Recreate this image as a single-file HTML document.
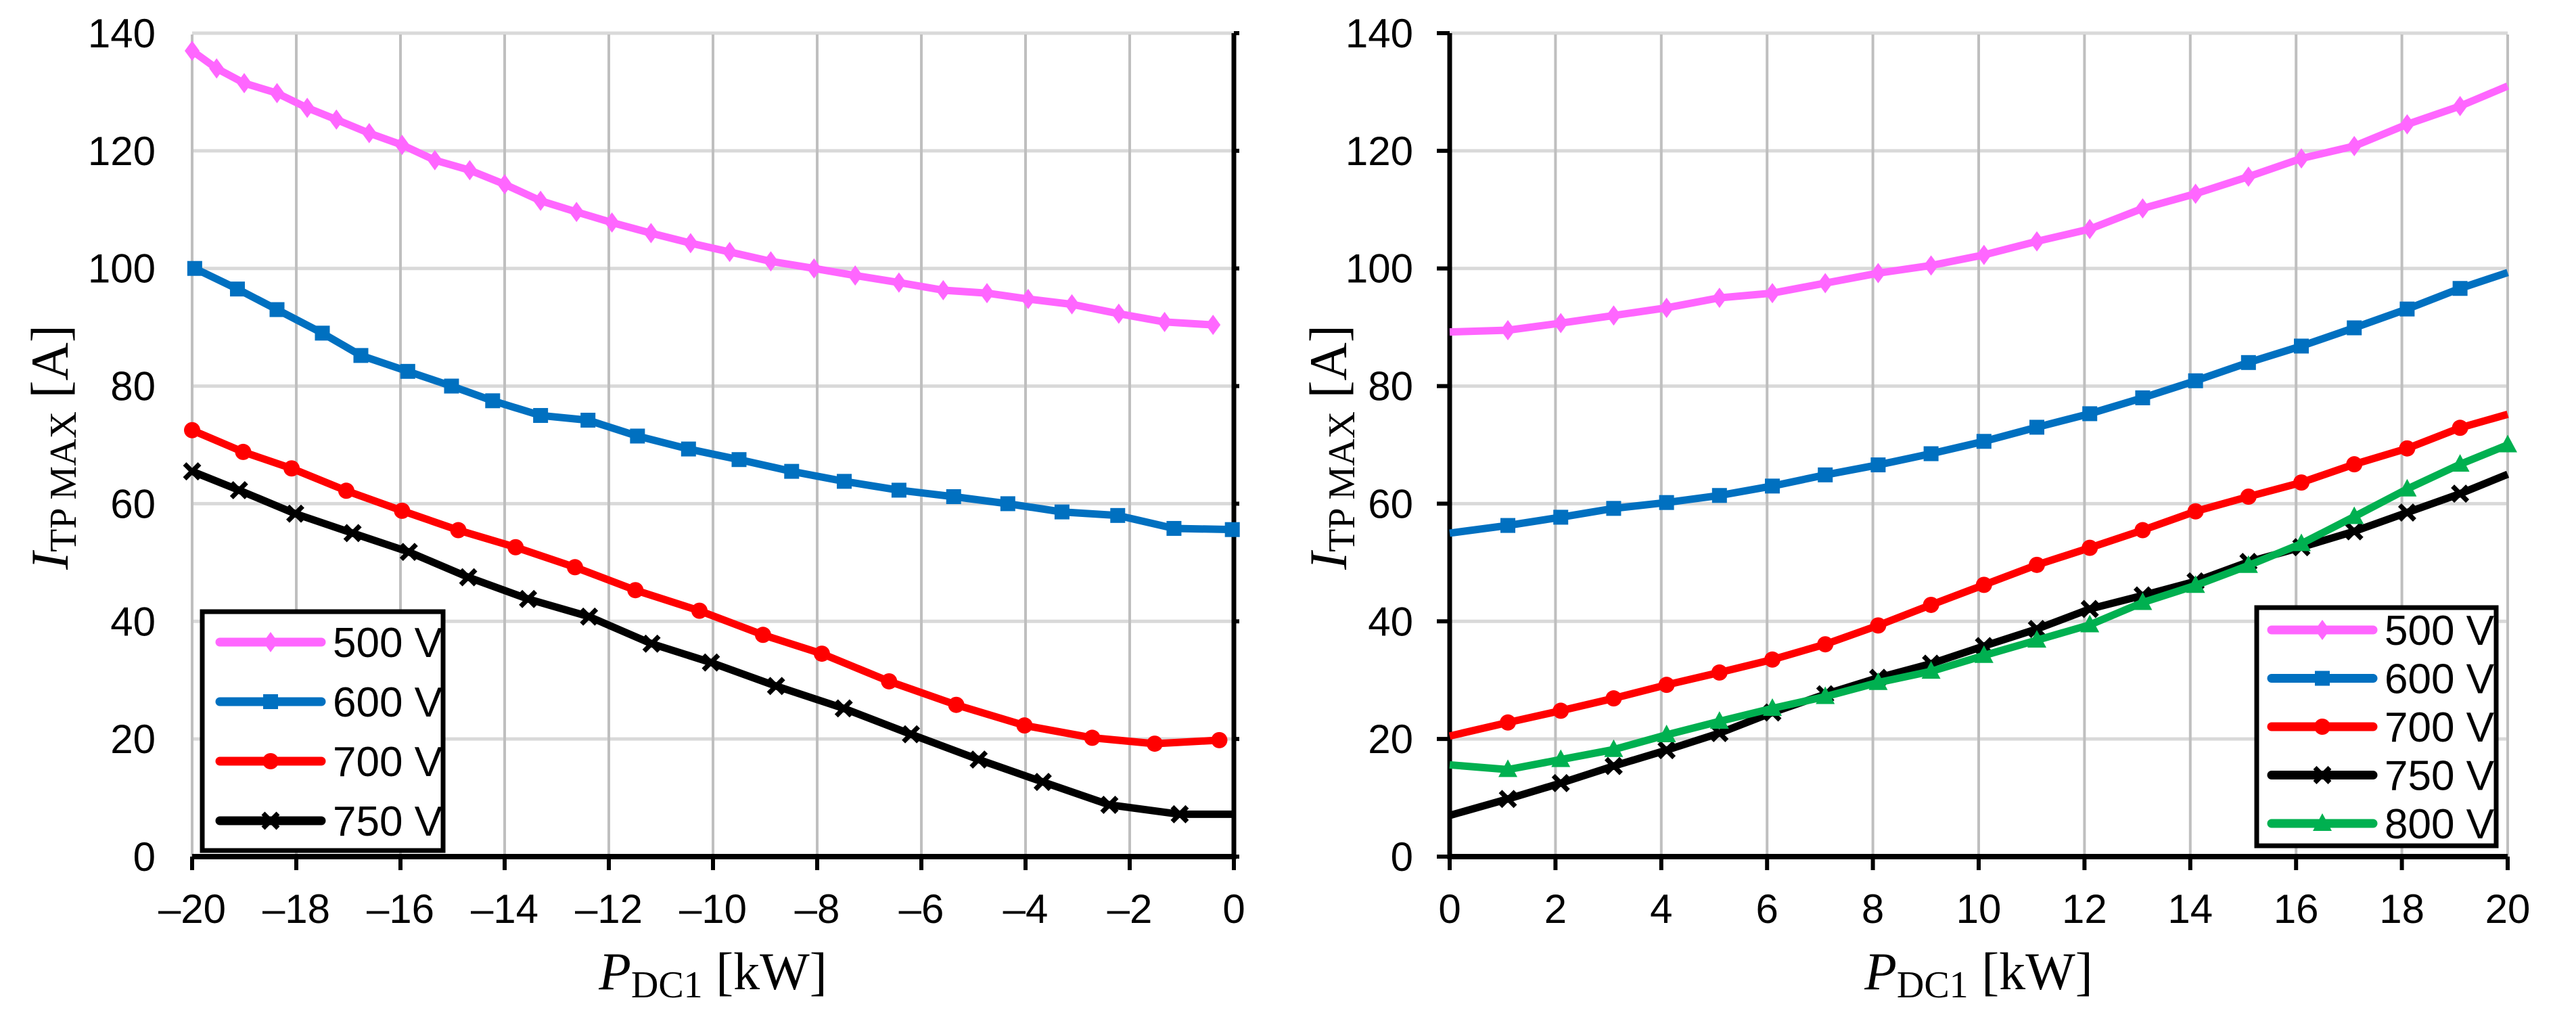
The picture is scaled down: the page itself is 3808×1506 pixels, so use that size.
<!DOCTYPE html>
<html><head><meta charset="utf-8"><style>
html,body{margin:0;padding:0;background:#fff}
svg{display:block}
text{font-family:"Liberation Sans",sans-serif}
.serif{font-family:"Liberation Serif",serif}
</style></head><body>
<svg id="chart" width="3808" height="1506" viewBox="0 0 3808 1506" xmlns="http://www.w3.org/2000/svg"></svg>
<script>
// ---- data: left panel (negative power) ----
const leftX500 = [-20,-19.53,-19.0,-18.37,-17.79,-17.23,-16.6,-15.97,-15.34,-14.67,-14.0,-13.31,-12.62,-11.94,-11.19,-10.43,-9.68,-8.89,-8.06,-7.27,-6.43,-5.58,-4.74,-3.95,-3.11,-2.21,-1.33,-0.4];
const leftY500 = [137,134,131.5,129.8,127.3,125.3,123,121,118.4,116.7,114.3,111.5,109.6,107.8,106,104.3,102.8,101.2,100,98.8,97.6,96.3,95.8,94.8,93.9,92.3,90.9,90.4];
const leftX600 = [-19.95,-19.13,-18.37,-17.5,-16.76,-15.86,-15.02,-14.23,-13.31,-12.4,-11.45,-10.47,-9.5,-8.49,-7.48,-6.43,-5.38,-4.34,-3.3,-2.23,-1.15,-0.03];
const leftY600 = [100,96.5,93,89,85.2,82.5,80,77.5,75,74.2,71.5,69.3,67.5,65.5,63.8,62.3,61.2,60,58.6,58,55.8,55.6];
const leftX700 = [-20,-19.02,-18.09,-17.04,-15.97,-14.89,-13.79,-12.65,-11.49,-10.26,-9.04,-7.91,-6.62,-5.33,-4.02,-2.72,-1.52,-0.28];
const leftY700 = [72.5,68.8,66,62.2,58.8,55.5,52.6,49.2,45.3,41.8,37.7,34.5,29.8,25.8,22.3,20.2,19.2,19.8];
const leftX750 = [-20,-19.1,-18.02,-16.92,-15.84,-14.7,-13.55,-12.38,-11.18,-10.04,-8.79,-7.49,-6.2,-4.9,-3.67,-2.39,-1.04,0];
const leftY750 = [65.5,62.3,58.3,55,51.8,47.5,43.8,40.8,36.2,33,29,25.2,20.8,16.5,12.7,8.8,7.2,7.2];
// ---- data: right panel (positive power) ----
const rightX = [0,1.1,2.1,3.1,4.1,5.1,6.1,7.1,8.1,9.1,10.1,11.1,12.1,13.1,14.1,15.1,16.1,17.1,18.1,19.1,20];
const rightY500 = [89.2,89.5,90.7,92,93.3,95,95.8,97.5,99.2,100.5,102.3,104.6,106.7,110.2,112.7,115.6,118.7,120.8,124.5,127.6,131];
const rightY600 = [55,56.3,57.7,59.2,60.2,61.4,63,64.9,66.6,68.5,70.6,73,75.3,78,80.9,84,86.8,89.9,93.1,96.6,99.3];
const rightY700 = [20.5,22.8,24.8,26.9,29.2,31.3,33.5,36.1,39.3,42.8,46.2,49.6,52.5,55.5,58.7,61.2,63.6,66.7,69.4,72.9,75.2];
const rightY750 = [7,9.8,12.5,15.4,18.1,21,24.5,27.6,30.4,32.8,35.8,38.7,42.1,44.4,46.8,50.1,52.6,55.3,58.5,61.7,65];
const rightY800 = [15.6,14.8,16.5,18.2,20.7,23,25.2,27.2,29.6,31.5,34.2,36.8,39.4,43.2,46.1,49.5,53.2,57.8,62.5,66.7,70];
const leftXTicks = [-20,-18,-16,-14,-12,-10,-8,-6,-4,-2,0];
const rightXTicks = [0,2,4,6,8,10,12,14,16,18,20];
const yTicks = [0,20,40,60,80,100,120,140];
const seriesNames = ["500 V","600 V","700 V","750 V","800 V"];

const NS="http://www.w3.org/2000/svg";
const svg=document.getElementById('chart');
function mk(tag,attrs,parent){const e=document.createElementNS(NS,tag);for(const k in attrs)e.setAttribute(k,attrs[k]);(parent||svg).appendChild(e);return e;}
const colors={"500 V":"#ff66ff","600 V":"#0070c0","700 V":"#ff0000","750 V":"#000000","800 V":"#00b050"};
const markers={"500 V":"diamond","600 V":"square","700 V":"circle","750 V":"x","800 V":"triangle"};

function marker(g,type,cx,cy,color){
  let m;
  if(type==="diamond"){m=mk('polygon',{points:`${cx},${cy-15} ${cx+11},${cy} ${cx},${cy+15} ${cx-11},${cy}`,fill:color},g);}
  else if(type==="square"){m=mk('rect',{x:cx-11,y:cy-11,width:22,height:22,fill:color},g);}
  else if(type==="circle"){m=mk('circle',{cx:cx,cy:cy,r:12,fill:color},g);}
  else if(type==="triangle"){m=mk('polygon',{points:`${cx},${cy-15} ${cx+14},${cy+11} ${cx-14},${cy+11}`,fill:color},g);}
  else {m=mk('path',{d:`M${cx-11},${cy-11}L${cx+11},${cy+11}M${cx+11},${cy-11}L${cx-11},${cy+11}`,stroke:color,'stroke-width':7,fill:'none'},g);}
  
  
}

function panel(cfg){
  const {x0,x1,xmin,xmax,name,yAxisAtRight}=cfg;
  const yTop=49,yBot=1266;
  const sx=v=>x0+(v-xmin)/(xmax-xmin)*(x1-x0);
  const sy=v=>yBot-v/140*(yBot-yTop);
  const g=mk('g',{});
  
  
  // horizontal gridlines
  yTicks.forEach(t=>{ if(t===0)return;
    const l=mk('line',{x1:x0,x2:x1,y1:sy(t),y2:sy(t),stroke:'#d9d9d9','stroke-width':5},g);
    });
  // vertical gridlines
  cfg.xTicks.forEach(t=>{
    const l=mk('line',{x1:sx(t),x2:sx(t),y1:yTop+2,y2:yBot,stroke:'#bfbfbf','stroke-width':4},g);
    });
  // axes
  const ax=yAxisAtRight?x1:x0;
  const ya=mk('line',{x1:ax,x2:ax,y1:yTop,y2:yBot+4,stroke:'#000','stroke-width':7},g);
  
  const xa=mk('line',{x1:x0,x2:x1,y1:yBot,y2:yBot,stroke:'#000','stroke-width':8},g);
  
  yTicks.forEach(t=>{
    const tk=mk('line',{x1:yAxisAtRight?ax:ax-19,x2:yAxisAtRight?ax+8:ax,y1:sy(t),y2:sy(t),stroke:'#000','stroke-width':6},g);
    
    const tx=mk('text',{x:x0-54,y:sy(t)+21,'text-anchor':'end','font-size':60},g);
    tx.textContent=t;
    
  });
  cfg.xTicks.forEach(t=>{
    const tk=mk('line',{x1:sx(t),x2:sx(t),y1:yBot,y2:yBot+20,stroke:'#000','stroke-width':6},g);
    
    const tx=mk('text',{x:sx(t),y:1364,'text-anchor':'middle','font-size':60},g);
    tx.textContent=(t<0?'\u2013'+(-t):String(t));
    
  });
  // series
  cfg.series.forEach(s=>{
    const sg=mk('g',{},g);
    
    
    const pts=s.xs.map((v,i)=>sx(v)+','+sy(s.ys[i])).join(' ');
    const pl=mk('polyline',{points:pts,fill:'none',stroke:colors[s.name],'stroke-width':11,'stroke-linejoin':'round','stroke-linecap':'butt'},sg);
    
    s.xs.forEach((v,i)=>{ if(s.skip&&s.skip.includes(i))return; marker(sg,markers[s.name],sx(v),sy(s.ys[i]),colors[s.name]);});
  });
  // legend
  const L=cfg.legend;
  const lg=mk('g',{},g);
  
  const lr=mk('rect',{x:L.x,y:L.y,width:L.w,height:L.h,fill:'#fff',stroke:'#000','stroke-width':7},lg);
  
  cfg.series.forEach((s,i)=>{
    const cy=L.y0+i*L.dy;
    const e=mk('g',{},lg);
    
    mk('line',{x1:L.lx,x2:L.lx+150,y1:cy,y2:cy,stroke:colors[s.name],'stroke-width':13,'stroke-linecap':'round'},e);
    marker(e,markers[s.name],L.lx+75,cy,colors[s.name]);
    const t=mk('text',{x:L.lx+167,y:cy+22,'font-size':62},e);
    t.textContent=s.name;
  });
  // axis titles
  const yt=mk('text',{transform:`translate(${cfg.ytx},661) rotate(-90)`,'text-anchor':'middle','font-size':78,class:'serif'},g);
  
  yt.innerHTML='<tspan font-style="italic">I</tspan><tspan font-size="56" dy="12">TP MAX</tspan><tspan dy="-12"> [A]</tspan>';
  const xt=mk('text',{x:(x0+x1)/2,y:1462,'text-anchor':'middle','font-size':78,class:'serif'},g);
  
  xt.innerHTML='<tspan font-style="italic">P</tspan><tspan font-size="56" dy="12">DC1</tspan><tspan dy="-12"> [kW]</tspan>';
}

panel({name:'left-panel',x0:284,x1:1824,xmin:-20,xmax:0,xTicks:leftXTicks,yAxisAtRight:true,ytx:100,
  series:[{name:"500 V",xs:leftX500,ys:leftY500},{name:"600 V",xs:leftX600,ys:leftY600},{name:"700 V",xs:leftX700,ys:leftY700},{name:"750 V",xs:leftX750,ys:leftY750,skip:[17]}],
  legend:{x:299,y:904,w:356,h:353,y0:949,dy:88,lx:325}});
panel({name:'right-panel',x0:2143,x1:3707,xmin:0,xmax:20,xTicks:rightXTicks,yAxisAtRight:false,ytx:1990,
  series:[{name:"500 V",xs:rightX,ys:rightY500,skip:[0,20]},{name:"600 V",xs:rightX,ys:rightY600,skip:[0,20]},{name:"700 V",xs:rightX,ys:rightY700,skip:[0,20]},{name:"750 V",xs:rightX,ys:rightY750,skip:[0,20]},{name:"800 V",xs:rightX,ys:rightY800,skip:[0]}],
  legend:{x:3336,y:898,w:354,h:352,y0:931,dy:71.5,lx:3358}});
</script>
</body></html>
